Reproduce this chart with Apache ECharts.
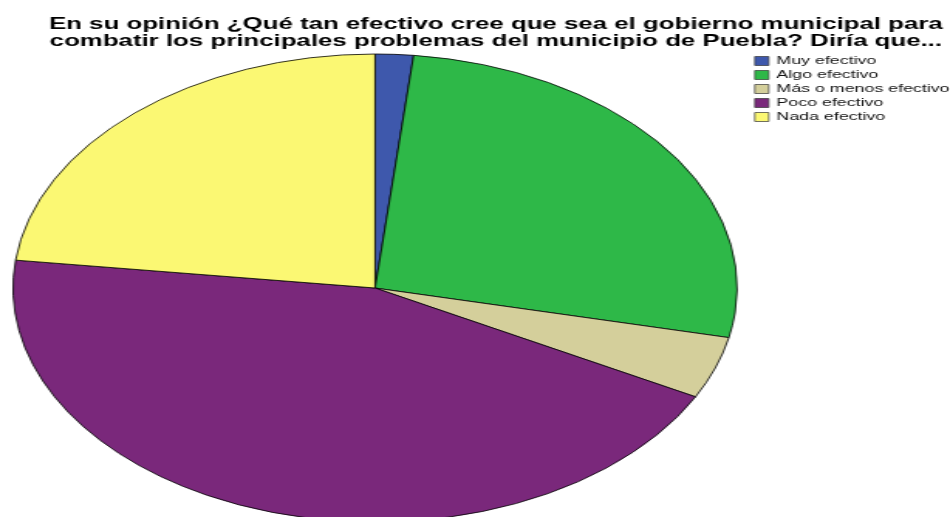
<!DOCTYPE html>
<html>
<head>
<meta charset="utf-8">
<script src="https://cdn.jsdelivr.net/npm/echarts@6/dist/echarts.min.js"></script>
<style>
html,body{margin:0;padding:0;background:#fff;overflow:hidden;}
#wrap{width:614px;height:517px;transform:scaleX(1.5472);transform-origin:0 0;}
</style>
</head>
<body>
<div id="wrap"></div>
<script>
const titleLines = [
  "En su opinión ¿Qué tan efectivo cree que sea el gobierno municipal para",
  "combatir los principales problemas del municipio de Puebla? Diría que..."
];
const categories = ["Muy efectivo", "Algo efectivo", "Más o menos efectivo", "Poco efectivo", "Nada efectivo"];
const values = [1.7, 26.7, 4.3, 44.2, 23.1];
const colors = ["#3E58AC", "#2EB848", "#D4CF9B", "#7A287B", "#FBF873"];

const chart = echarts.init(document.getElementById('wrap'), null, {renderer: 'canvas'});
chart.setOption({
  animation: false,
  color: colors,
  graphic: [{
    type: 'text',
    x: 320.5,
    y: 16,
    style: {
      text: titleLines.join('\n'),
      font: 'bold 16.7px "Liberation Sans", Arial, sans-serif',
      lineHeight: 17,
      fill: '#000',
      align: 'center',
      verticalAlign: 'top'
    }
  }],
  legend: {
    orient: 'vertical',
    left: 487.5,
    top: 54,
    padding: 0,
    itemWidth: 9,
    itemHeight: 9,
    itemGap: 0,
    icon: 'rect',
    selectedMode: false,
    data: categories,
    itemStyle: {borderColor: '#333', borderWidth: 0.7},
    textStyle: {fontFamily: '"Liberation Sans", Arial, sans-serif', fontSize: 11.5, color: '#111', lineHeight: 14}
  },
  series: [{
    type: 'pie',
    center: [242.4, 288],
    radius: 234,
    startAngle: 90,
    clockwise: true,
    label: {show: false},
    labelLine: {show: false},
    emphasis: {disabled: true},
    itemStyle: {borderColor: '#000', borderWidth: 0.8},
    data: categories.map((c, i) => ({name: c, value: values[i]}))
  }]
});
</script>
</body>
</html>
